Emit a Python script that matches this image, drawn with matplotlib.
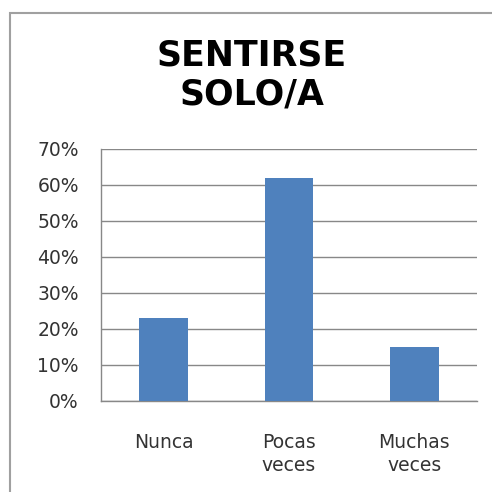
import matplotlib
matplotlib.use('Agg')
import matplotlib.pyplot as plt
from matplotlib.patches import Rectangle
from matplotlib.ticker import FuncFormatter

# data
categories = ['Nunca', 'Pocas\nveces', 'Muchas\nveces']
values = [23, 62, 15]
y_ticks = [0, 10, 20, 30, 40, 50, 60, 70]

plt.rcParams['font.family'] = ['DejaVu Sans']

fig = plt.figure(figsize=(4.92, 4.92), dpi=100)
fig.patch.set_facecolor('white')

# outer chart frame (runs off the right and bottom of the image)
fig.patches.append(Rectangle((9.5 / 492, -0.1), 1.2, 0.1 + 1 - 12.5 / 492,
                             transform=fig.transFigure, fill=False,
                             edgecolor='#a0a0a0', linewidth=1.5))

ax = fig.add_axes([101 / 492, 1 - 401 / 492, 376 / 492, 252 / 492])
ax.bar(range(len(values)), values, width=0.39, color='#4f81bd', zorder=3)
ax.set_xlim(-0.5, len(values) - 0.5)
ax.set_ylim(0, 70)
ax.set_yticks(y_ticks)
ax.yaxis.set_major_formatter(FuncFormatter(lambda v, p: f'{v:.0f}%'))
ax.set_xticks(range(len(values)))
ax.set_xticklabels(categories, fontsize=13.5, color='#333333', linespacing=1.25)
ax.tick_params(axis='y', labelsize=13.5, labelcolor='#333333', length=0, pad=16)
ax.tick_params(axis='x', length=0, pad=23)
ax.grid(axis='y', color='#888888', linewidth=1, zorder=0)

for side in ['top', 'right']:
    ax.spines[side].set_visible(False)
for side in ['left', 'bottom']:
    ax.spines[side].set_color('#888888')
    ax.spines[side].set_linewidth(1)

fig.text(0.512, 1 - 75 / 492, 'SENTIRSE\nSOLO/A', ha='center', va='center',
         fontsize=25, fontweight='bold', linespacing=1.18)

fig.savefig('out.png', dpi=100)
